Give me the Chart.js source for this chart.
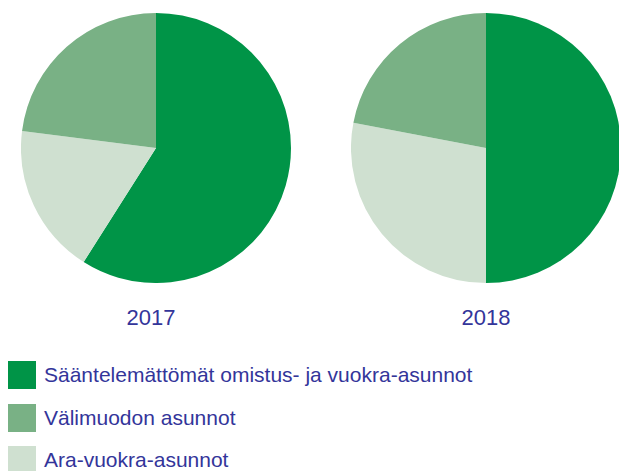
<!DOCTYPE html>
<html>
<head>
<meta charset="utf-8">
<script src="https://cdn.jsdelivr.net/npm/chart.js@4"></script>
<style>
  html, body { margin: 0; padding: 0; background: #ffffff; width: 619px; height: 471px; overflow: hidden; }
  body { position: relative; font-family: "Liberation Sans", Arial, sans-serif; color: #33359a; }
  .pie { position: absolute; top: 13px; width: 270px; height: 270px; }
  .year { position: absolute; top: 305px; width: 120px; text-align: center; font-size: 22px; line-height: 26px; }
  .leg { position: absolute; left: 8px; height: 28px; }
  .leg .sw { position: absolute; left: 0; top: 0; width: 28px; height: 28px; }
  .leg .tx { position: absolute; left: 36px; top: 0; font-size: 21px; line-height: 28px; white-space: nowrap; }
</style>
</head>
<body>
<div class="pie" style="left:21px"><canvas id="c2017"></canvas></div>
<div class="pie" style="left:351px"><canvas id="c2018"></canvas></div>
<div class="year" id="y0" style="left:91px"></div>
<div class="year" id="y1" style="left:426px"></div>
<div id="legend"></div>
<script>
// Categories in drawing (clockwise from top) order
const categories = ['Sääntelemättömät omistus- ja vuokra-asunnot', 'Ara-vuokra-asunnot', 'Välimuodon asunnot'];
const values2017 = [59, 18, 23];
const values2018 = [50, 28, 22];
const years = ['2017', '2018'];
const colors = ['#009447', '#cfe0d0', '#79b185'];
const legendOrder = [0, 2, 1];

function makePie(id, values) {
  new Chart(document.getElementById(id), {
    type: 'pie',
    data: {
      labels: categories,
      datasets: [{ data: values, backgroundColor: colors, borderWidth: 0, hoverOffset: 0 }]
    },
    options: {
      responsive: true,
      maintainAspectRatio: false,
      animation: false,
      layout: { padding: 0 },
      plugins: { legend: { display: false }, tooltip: { enabled: false }, title: { display: false } }
    }
  });
}
makePie('c2017', values2017);
makePie('c2018', values2018);

document.getElementById('y0').textContent = years[0];
document.getElementById('y1').textContent = years[1];

const legend = document.getElementById('legend');
legendOrder.forEach((idx, i) => {
  const item = document.createElement('div');
  item.className = 'leg';
  item.style.top = (361 + i * 42.7) + 'px';
  const sw = document.createElement('div');
  sw.className = 'sw';
  sw.style.background = colors[idx];
  const tx = document.createElement('div');
  tx.className = 'tx';
  tx.textContent = categories[idx];
  item.appendChild(sw);
  item.appendChild(tx);
  legend.appendChild(item);
});
</script>
</body>
</html>
